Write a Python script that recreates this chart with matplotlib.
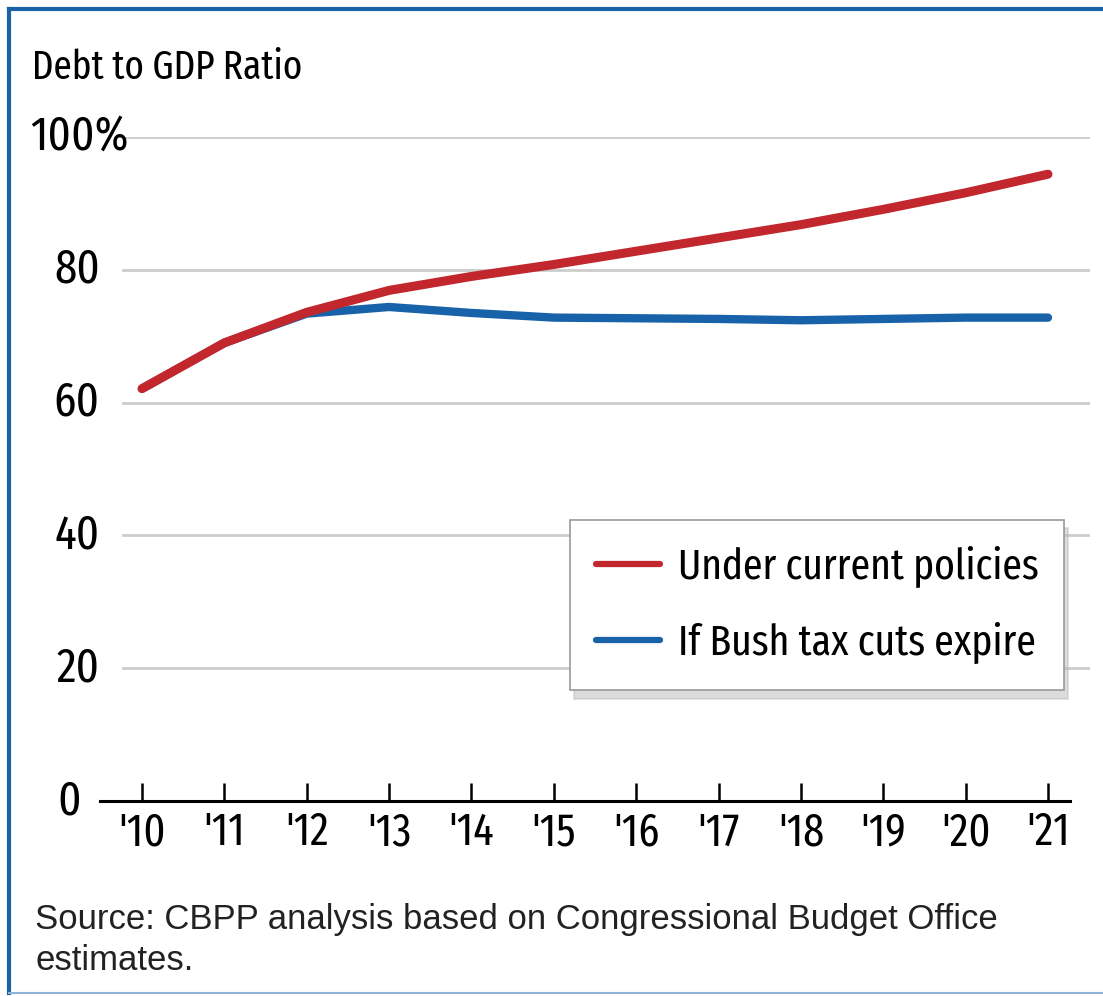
import matplotlib.pyplot as plt
from matplotlib.lines import Line2D

# данные
years = [2010, 2011, 2012, 2013, 2014, 2015, 2016, 2017, 2018, 2019, 2020, 2021]
year_labels = ["'10", "'11", "'12", "'13", "'14", "'15", "'16", "'17", "'18", "'19", "'20", "'21"]
current_policies = [62.1, 69.0, 73.6, 76.9, 79.0, 80.8, 82.8, 84.8, 86.8, 89.1, 91.6, 94.4]
tax_cuts_expire = [62.1, 69.0, 73.4, 74.4, 73.5, 72.8, 72.7, 72.6, 72.4, 72.6, 72.8, 72.8]
y_ticks = [0, 20, 40, 60, 80, 100]
y_labels = ['0', '20', '40', '60', '80', '100%']

red = '#c1272d'
blue = '#1862a9'
narrow = ['Fira Sans Extra Condensed', 'Open Sans Condensed', 'Roboto Condensed', 'DejaVu Sans']

W, H = 1103, 996
fig = plt.figure(figsize=(W / 100, H / 100), dpi=100)
ax = fig.add_axes([100 / W, (H - 801) / H, 990 / W, (801 - 137) / H])

ax.set_xlim(2009.49, 2021.51)
ax.set_ylim(0, 100)

# сетка
for y in y_ticks[1:]:
    ax.axhline(y, xmin=23 / 990, xmax=1.0, color='#cccccc', lw=2, zorder=1)

ax.plot(years, tax_cuts_expire, color=blue, lw=6.0, solid_capstyle='round',
        label='If Bush tax cuts expire', zorder=3)
ax.plot(years, current_policies, color=red, lw=6.5, solid_capstyle='round',
        label='Under current policies', zorder=4)

for s in ['left', 'right', 'top']:
    ax.spines[s].set_visible(False)
ax.spines['bottom'].set_linewidth(2.2)
ax.spines['bottom'].set_bounds(2009.49, 2021.27)

ax.set_xticks(years)
ax.set_xticklabels(year_labels, fontsize=33, family=narrow)
ax.tick_params(axis='x', direction='in', length=13, width=1.8, pad=7)
ax.set_yticks([])

# подписи оси Y
tr = ax.get_yaxis_transform()
for v, lab in zip(y_ticks, y_labels):
    if lab == '100%':
        ax.text(-70 / 990, v, lab, transform=tr, ha='left', va='center',
                fontsize=35, family=narrow)
    elif lab == '0':
        ax.text(-19 / 990, v, lab, transform=tr, ha='right', va='center',
                fontsize=35, family=narrow)
    else:
        ax.text(0.0, v, lab, transform=tr, ha='right', va='center',
                fontsize=35, family=narrow)

fig.text(32 / W, 1 - 68 / H, 'Debt to GDP Ratio', fontsize=29, family=narrow,
         va='center', ha='left')

handles, labels = ax.get_legend_handles_labels()
leg = ax.legend(handles[::-1], labels[::-1], loc='upper left',
                bbox_to_anchor=(570 / W, 1 - 520 / H), bbox_transform=fig.transFigure,
                prop={'family': narrow, 'size': 31}, frameon=True, fancybox=False,
                edgecolor='#999999', framealpha=1, handlelength=1.5, handletextpad=0.4,
                borderpad=0.6, labelspacing=0.8, borderaxespad=0,
                shadow={'color': '#bbbbbb', 'alpha': 0.5, 'ox': 3, 'oy': -6})
leg.get_frame().set_linewidth(1.2)
for line in leg.get_lines():
    line.set_linewidth(4.5)

fig.text(35 / W, 1 - 940 / H, 'Source: CBPP analysis based on Congressional Budget Office\nestimates.',
         fontsize=25, family='Liberation Sans', color='#222222', va='center', ha='left',
         linespacing=1.3)

# рамка
fig.add_artist(Line2D([9 / W, 1], [1 - 9 / H, 1 - 9 / H], color='#1a62a6', lw=3))
fig.add_artist(Line2D([9 / W, 9 / W], [1 - 9 / H, 1 - 993 / H], color='#1a62a6', lw=3))
fig.add_artist(Line2D([9 / W, 1], [1 - 993 / H, 1 - 993 / H], color='#8fb4d8', lw=1.5))

plt.savefig('out.png', dpi=100)
